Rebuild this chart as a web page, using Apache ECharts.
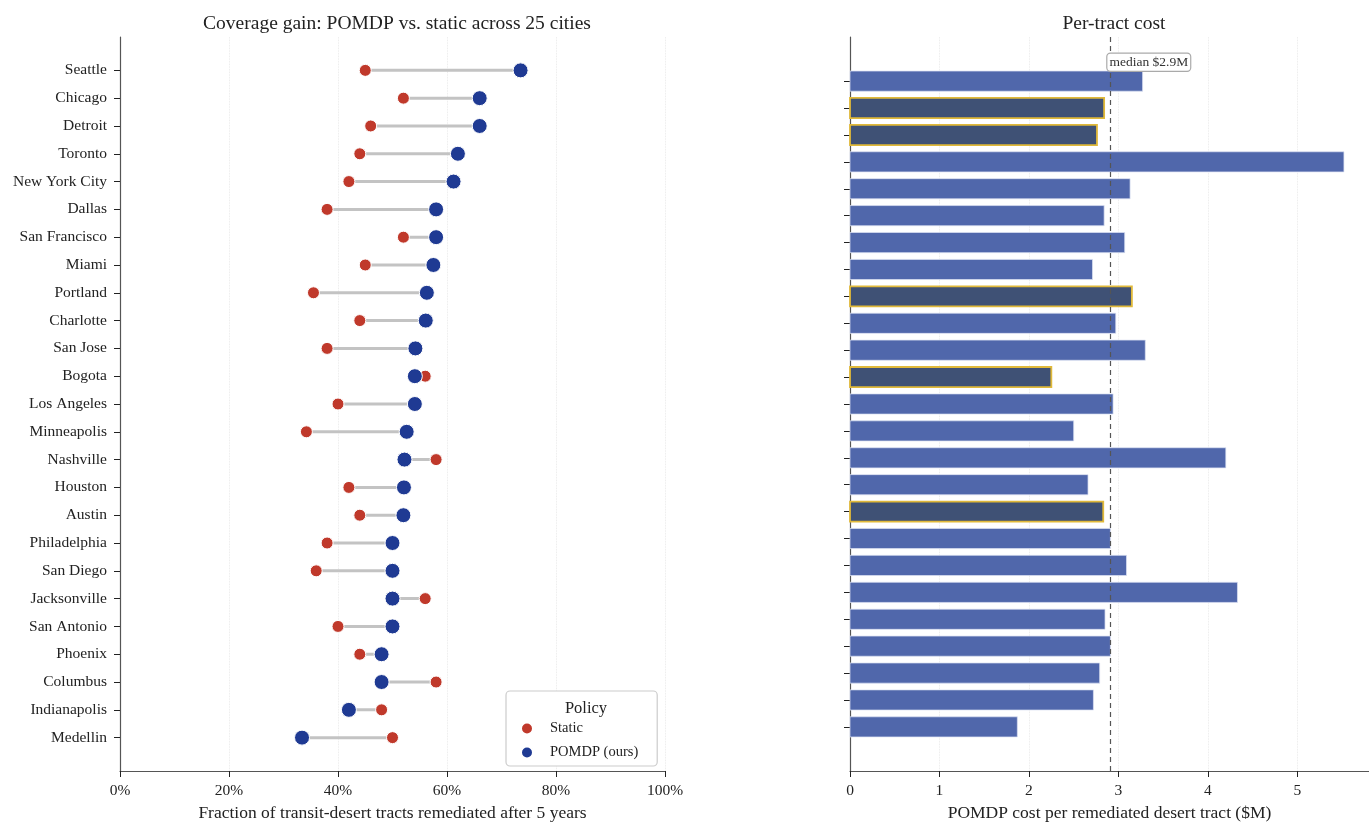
<!DOCTYPE html>
<html>
<head>
<meta charset="utf-8">
<script src="https://cdn.jsdelivr.net/npm/echarts@6/dist/echarts.min.js"></script>
<style>html,body{margin:0;padding:0;background:#fff}#chart{width:1369px;height:823px}</style>
</head>
<body>
<div id="chart"></div>
<script>
const cities = ["Seattle","Chicago","Detroit","Toronto","New York City","Dallas","San Francisco","Miami","Portland","Charlotte","San Jose","Bogota","Los Angeles","Minneapolis","Nashville","Houston","Austin","Philadelphia","San Diego","Jacksonville","San Antonio","Phoenix","Columbus","Indianapolis","Medellin"];
const staticCoverage = [0.45,0.52,0.46,0.44,0.42,0.38,0.52,0.45,0.355,0.44,0.38,0.56,0.40,0.342,0.58,0.42,0.44,0.38,0.36,0.56,0.40,0.44,0.58,0.48,0.50];
const pomdpCoverage  = [0.735,0.66,0.66,0.62,0.612,0.58,0.58,0.575,0.563,0.561,0.542,0.541,0.541,0.526,0.522,0.521,0.52,0.50,0.50,0.50,0.50,0.48,0.48,0.42,0.334];
const costPerTract = [3.27,2.84,2.76,5.52,3.13,2.84,3.07,2.71,3.15,2.97,3.30,2.25,2.94,2.50,4.20,2.66,2.83,2.91,3.09,4.33,2.85,2.91,2.79,2.72,1.87];
const highlightedCities = ["Chicago","Detroit","Portland","Bogota","Austin"];
const leftTicks = [0,0.2,0.4,0.6,0.8,1.0];
const rightTicks = [0,1,2,3,4,5];

const sortedCost = costPerTract.slice().sort((a,b)=>a-b);
const medianCost = sortedCost[Math.floor(sortedCost.length/2)];
const idx = cities.map((c,i)=>i);

const FONT = "'Liberation Serif', 'DejaVu Serif', serif";
const RED = '#c0392b', BLUE = '#1f3a93';

const chart = echarts.init(document.getElementById('chart'), null, {renderer:'canvas'});

const axisLineStyle = {color:'#555', width:1.2};
const tickStyle = {color:'#222', width:1};

const option = {
  backgroundColor:'#fff',
  animation:false,
  textStyle:{fontFamily:FONT},
  title:[
    {text:'Coverage gain: POMDP vs. static across 25 cities', left:392, top:9, textAlign:'center',
     textStyle:{fontFamily:FONT, fontSize:19.5, fontWeight:'normal', color:'#222'}},
    {text:'Per-tract cost', left:1109, top:9, textAlign:'center',
     textStyle:{fontFamily:FONT, fontSize:19.5, fontWeight:'normal', color:'#222'}},
    {text:'Policy', left:581, top:695, textAlign:'center',
     textStyle:{fontFamily:FONT, fontSize:16.5, fontWeight:'normal', color:'#222'}}
  ],
  legend:{
    show:true, orient:'vertical', left:506, top:691,
    padding:[30,19,6,14], itemGap:9, itemWidth:36, itemHeight:12,
    borderColor:'#cccccc', borderWidth:1.2, borderRadius:4, backgroundColor:'#fff',
    textStyle:{fontFamily:FONT, fontSize:14.5, color:'#222'},
    data:[{name:'Static', icon:'circle'},{name:'POMDP (ours)', icon:'circle'}]
  },
  grid:[
    {left:120, top:37, width:545, height:734, outerBoundsMode:'none', containLabel:false},
    {left:850, top:37, width:519, height:734, outerBoundsMode:'none', containLabel:false}
  ],
  xAxis:[
    {type:'value', gridIndex:0, min:0, max:1, interval:0.2,
     axisLine:{show:true, onZero:false, lineStyle:axisLineStyle},
     axisTick:{show:true, length:6, lineStyle:tickStyle},
     axisLabel:{fontFamily:FONT, fontSize:15.5, color:'#222', margin:12, formatter:v=>Math.round(v*100)+'%'},
     splitLine:{show:true, lineStyle:{color:'#e4e4e4', type:'dotted', width:0.8}},
     name:'Fraction of transit-desert tracts remediated after 5 years', nameLocation:'middle', nameGap:33,
     nameTextStyle:{fontFamily:FONT, fontSize:17.5, color:'#222'}},
    {type:'value', gridIndex:1, min:0, max:5.8,
     axisLine:{show:true, onZero:false, lineStyle:axisLineStyle},
     axisTick:{show:true, length:6, lineStyle:tickStyle, customValues:rightTicks},
     axisLabel:{fontFamily:FONT, fontSize:15.5, color:'#222', margin:12, customValues:rightTicks},
     splitLine:{show:true, lineStyle:{color:'#e4e4e4', type:'dotted', width:0.8}},
     name:'POMDP cost per remediated desert tract ($M)', nameLocation:'middle', nameGap:33,
     nameTextStyle:{fontFamily:FONT, fontSize:17.5, color:'#222'}}
  ],
  yAxis:[
    {type:'value', gridIndex:0, min:-1.2, max:25.2, inverse:true,
     axisLine:{show:true, onZero:false, lineStyle:axisLineStyle},
     axisTick:{show:true, length:6, lineStyle:tickStyle, customValues:idx},
     axisLabel:{show:true, fontFamily:FONT, fontSize:15.5, color:'#222', margin:13, customValues:idx,
                formatter:v=>cities[Math.round(v)] || ''},
     splitLine:{show:false}},
    {type:'value', gridIndex:1, min:-1.64, max:25.64, inverse:true,
     axisLine:{show:true, onZero:false, lineStyle:axisLineStyle},
     axisTick:{show:true, length:6, lineStyle:tickStyle, customValues:idx},
     axisLabel:{show:false},
     splitLine:{show:false}}
  ],
  series:[
    {type:'custom', name:'connector', xAxisIndex:0, yAxisIndex:0, silent:true,
     data: idx.map(i=>[staticCoverage[i], pomdpCoverage[i], i]),
     encode:{x:[0,1], y:2},
     renderItem:(params, api)=>{
       const a = api.coord([api.value(0), api.value(2)]);
       const b = api.coord([api.value(1), api.value(2)]);
       return {type:'line', shape:{x1:a[0], y1:a[1], x2:b[0], y2:b[1]},
               style:{stroke:'#c3c3c3', lineWidth:3}};
     }},
    {type:'scatter', name:'Static', xAxisIndex:0, yAxisIndex:0, symbol:'circle', symbolSize:12,
     itemStyle:{color:RED, opacity:1, borderColor:'#fff', borderWidth:1},
     data: idx.map(i=>[staticCoverage[i], i]), z:3},
    {type:'scatter', name:'POMDP (ours)', xAxisIndex:0, yAxisIndex:0, symbol:'circle', symbolSize:15,
     itemStyle:{color:BLUE, opacity:1, borderColor:'#fff', borderWidth:1},
     data: idx.map(i=>[pomdpCoverage[i], i]), z:4},
    {type:'custom', name:'cost', xAxisIndex:1, yAxisIndex:1,
     data: idx.map(i=>[costPerTract[i], i, highlightedCities.includes(cities[i]) ? 1 : 0]),
     encode:{x:0, y:1},
     renderItem:(params, api)=>{
       const v = api.value(0), i = api.value(1), hl = api.value(2);
       const s = api.coord([0, i]);
       const e = api.coord([v, i]);
       const h = api.size([0, 0.75])[1];
       return {type:'rect', shape:{x:s[0], y:s[1]-h/2, width:e[0]-s[0], height:h},
               style: hl ? {fill:'#3f5175', stroke:'#e0b93a', lineWidth:1.8}
                         : {fill:'#5067ab', stroke:'rgba(220,226,242,0.9)', lineWidth:0.8}};
     },
     markLine:{silent:true, symbol:'none', label:{show:false},
       lineStyle:{color:'#555', type:[5,4], width:1.2},
       data:[{xAxis:medianCost}]},
     markPoint:{silent:true, symbol:'circle', symbolSize:0,
       data:[{coord:[medianCost, -0.7], value:medianCost}],
       label:{show:true, position:[-3,0], align:'left', verticalAlign:'middle',
         formatter:'median $'+medianCost.toFixed(1)+'M',
         fontFamily:FONT, fontSize:13.5, color:'#333', backgroundColor:'#fff',
         borderColor:'#aaa', borderWidth:1.2, borderRadius:3, padding:[2,2,1,2]}}
    }
  ]
};
chart.setOption(option);
</script>
</body>
</html>
